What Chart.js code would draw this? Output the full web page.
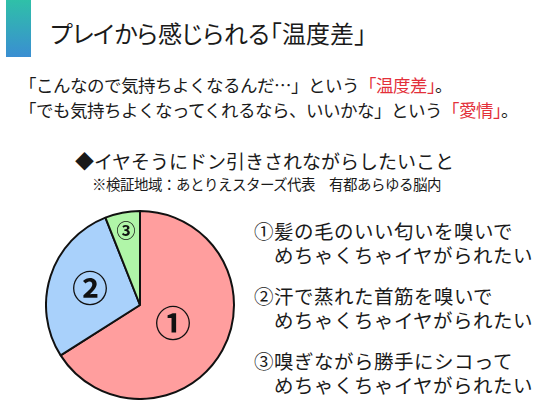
<!DOCTYPE html>
<html>
<head>
<meta charset="utf-8">
<script src="https://cdn.jsdelivr.net/npm/chart.js@4"></script>
<style>
  @font-face {
    font-family: 'JPTight';
    src: local('Noto Sans CJK JP Regular'), local('NotoSansCJKjp-Regular'), local('Noto Sans CJK JP');
    ascent-override: 88%;
    descent-override: 12%;
    line-gap-override: 0%;
  }
  html, body { margin: 0; padding: 0; background: #fff; }
  body { width: 560px; height: 420px; position: relative; overflow: hidden;
         font-family: "JPTight", "Noto Sans CJK JP", "Noto Sans", sans-serif; color: #1a1a1a; }
  .t { position: absolute; white-space: nowrap; line-height: 1; }
  .red { color: #e3303a; }
  #bar { position: absolute; left: 6px; top: 0; width: 25px; height: 57px;
         background: linear-gradient(#2fc0a8, #3a8ed2); }
  #wrap { position: absolute; left: 44.5px; top: 209.5px; width: 190px; height: 190px; }
</style>
</head>
<body>
<div id="bar"></div>
<div class="t" style="left:50px;top:22px;font-size:24px;font-feature-settings:'palt';">プレイから感じられる「温度差」</div>
<div class="t" style="left:19px;top:77px;font-size:17.5px;">「こんなので気持ちよくなるんだ…」という<span class="red">「温度差」</span>。</div>
<div class="t" style="left:19px;top:102px;font-size:17.5px;">「でも気持ちよくなってくれるなら、いいかな」という<span class="red">「愛情」</span>。</div>
<div class="t" id="heading" style="left:75px;top:152px;font-size:19px;"></div>
<div class="t" id="note" style="left:92px;top:178px;font-size:14.5px;"></div>
<div id="legend"></div>
<div id="wrap"><canvas id="chart"></canvas></div>
<script>
// slice data, clockwise from 12 o'clock
const labels = ['①', '②', '③'];
const values = [66, 28, 6];
const colors = ['#ff9e9e', '#a9d1fb', '#b0f5a8'];
const heading = '◆イヤそうにドン引きされながらしたいこと';
const note = '※検証地域：あとりえスターズ代表　有都あらゆる脳内';
const legendLines = [
  ['①髪の毛のいい匂いを嗅いで', 'めちゃくちゃイヤがられたい'],
  ['②汗で蒸れた首筋を嗅いで', 'めちゃくちゃイヤがられたい'],
  ['③嗅ぎながら勝手にシコって', 'めちゃくちゃイヤがられたい'],
];

document.getElementById('heading').textContent = heading;
document.getElementById('note').textContent = note;

const legendTops = [220, 285, 350];
const legend = document.getElementById('legend');
legendLines.forEach((l, i) => {
  const d = document.createElement('div');
  d.className = 't';
  d.style.cssText = `left:254px;top:${legendTops[i]}px;font-size:19.5px;line-height:24px;`;
  d.appendChild(document.createTextNode(l[0]));
  d.appendChild(document.createElement('br'));
  const s = document.createElement('span');
  s.style.paddingLeft = '20px';
  s.textContent = l[1];
  d.appendChild(s);
  legend.appendChild(d);
});

// draws the circled numbers inside the slices
const sliceLabels = {
  id: 'sliceLabels',
  afterDatasetsDraw(chart, args, opts) {
    const ctx = chart.ctx;
    const arcs = chart.getDatasetMeta(0).data;
    ctx.save();
    ctx.fillStyle = '#111';
    ctx.textAlign = 'center';
    ctx.textBaseline = 'middle';
    arcs.forEach((arc, i) => {
      const p = arc.getProps(['x', 'y', 'startAngle', 'endAngle', 'outerRadius']);
      const mid = (p.startAngle + p.endAngle) / 2;
      const r = p.outerRadius * opts.radius[i];
      ctx.font = `bold ${opts.size[i]}px "Noto Sans CJK JP", sans-serif`;
      ctx.fillText(labels[i], p.x + Math.cos(mid) * r, p.y + Math.sin(mid) * r);
    });
    ctx.restore();
  }
};

new Chart(document.getElementById('chart'), {
  type: 'pie',
  data: {
    labels: labels,
    datasets: [{
      data: values,
      backgroundColor: colors,
      borderColor: '#111',
      borderWidth: 2,
    }]
  },
  options: {
    animation: false,
    responsive: true,
    maintainAspectRatio: false,
    layout: { padding: 0 },
    plugins: {
      legend: { display: false },
      tooltip: { enabled: false },
      sliceLabels: { radius: [0.4, 0.56, 0.8], size: [36, 36, 19] },
    }
  },
  plugins: [sliceLabels]
});
</script>
</body>
</html>
